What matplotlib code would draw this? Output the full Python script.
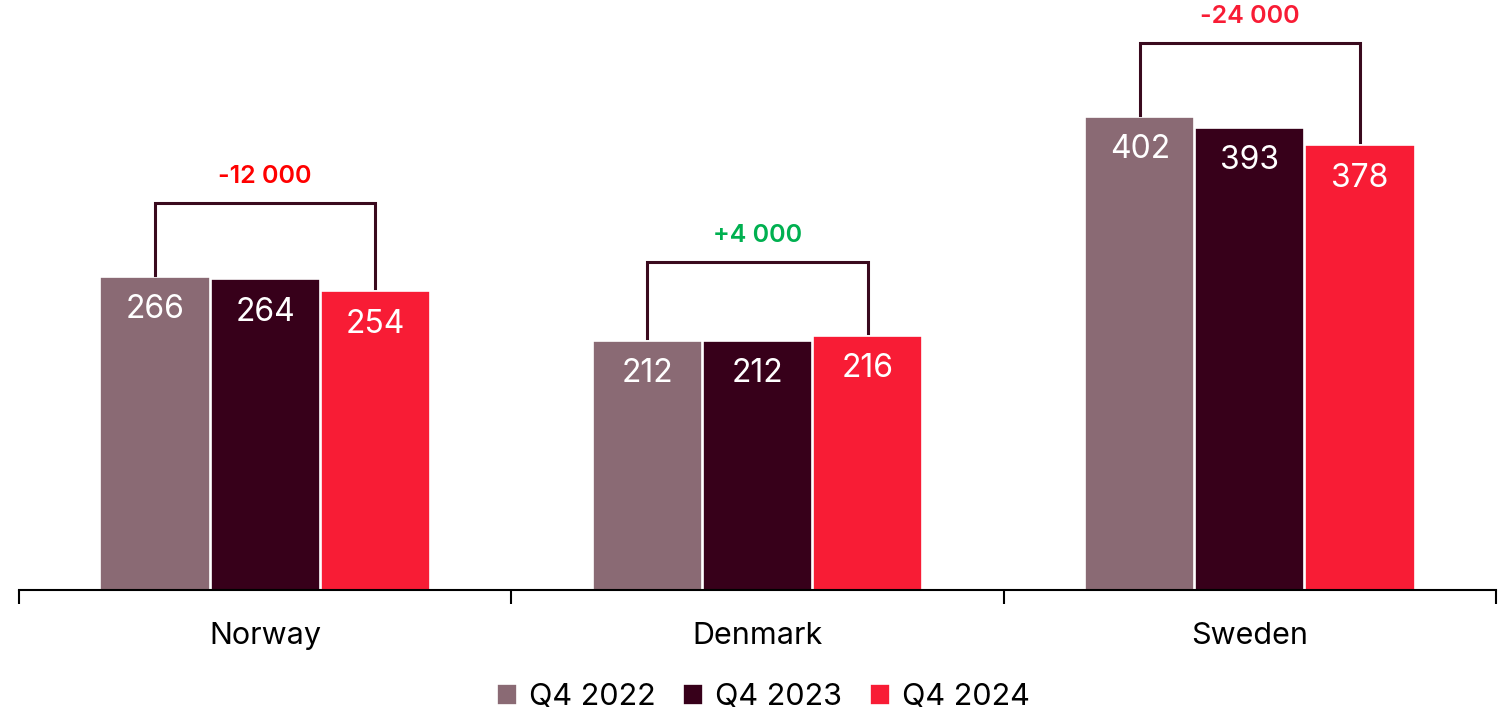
import matplotlib.pyplot as plt
import numpy as np

plt.rcParams['font.family'] = ['Inter', 'DejaVu Sans']

# ---------------------------------------------------------
# Data
# ---------------------------------------------------------
countries = ["Norway", "Denmark", "Sweden"]
series = ["Q4 2022", "Q4 2023", "Q4 2024"]
q4_2022 = [266, 212, 402]
q4_2023 = [264, 212, 393]
q4_2024 = [254, 216, 378]
change_labels = ["-12 000", "+4 000", "-24 000"]
change_colors = ["#FF0000", "#00B050", "#F81C35"]

colors = ["#8A6A74", "#37001A", "#F81C35"]
bracket_color = "#3A0A1E"

# ---------------------------------------------------------
# Figure
# ---------------------------------------------------------
fig = plt.figure(figsize=(15.09, 7.13), dpi=100)
ax = fig.add_axes([19 / 1509, 123 / 713, (1496 - 19) / 1509, 590 / 713])

x = np.arange(len(countries))
width = 0.222
offset = 0.2236
values = [q4_2022, q4_2023, q4_2024]

for i, (vals, name) in enumerate(zip(values, series)):
    pos = x + (i - 1) * offset
    bars = ax.bar(pos, vals, width, color=colors[i], edgecolor="white",
                  linewidth=1.2, label=name, zorder=2)
    for b, v in zip(bars, vals):
        ax.text(b.get_x() + b.get_width() / 2, v - 28, str(v),
                ha="center", va="center", color="white", fontsize=23)

# brackets between first and last series
for j in range(len(countries)):
    top = max(q4_2022[j], q4_2023[j], q4_2024[j]) + 63
    x0 = x[j] - offset
    x1 = x[j] + offset
    ax.plot([x0, x0, x1, x1], [q4_2022[j] + 2, top, top, q4_2024[j] + 2.5],
            color=bracket_color, linewidth=2.2, solid_joinstyle="miter", zorder=3)
    ax.text(x[j], top + 22, change_labels[j], ha="center", va="center",
            color=change_colors[j], fontsize=18, fontweight="semibold")

ax.set_xlim(-0.5, 2.5)
ax.set_ylim(0, 501.4)
ax.set_yticks([])
for s in ["top", "right", "left"]:
    ax.spines[s].set_visible(False)
ax.spines["bottom"].set_linewidth(1.5)
ax.spines["bottom"].set_color("black")

ax.set_xticks([-0.5, 0.5, 1.5, 2.5])
ax.set_xticklabels([])
ax.tick_params(axis="x", length=10, width=1.5, direction="out")
ax.set_xticks(x, minor=True)
ax.set_xticklabels(countries, minor=True, fontsize=22)
ax.tick_params(axis="x", which="minor", length=0, pad=23)

fig.legend(*ax.get_legend_handles_labels(), loc="center",
           bbox_to_anchor=(0.506, 0.022), ncol=3, frameon=False,
           fontsize=22, handlelength=0.65, handleheight=0.65, handletextpad=0.4,
           columnspacing=0.9)

fig.savefig("out.png", dpi=100)
